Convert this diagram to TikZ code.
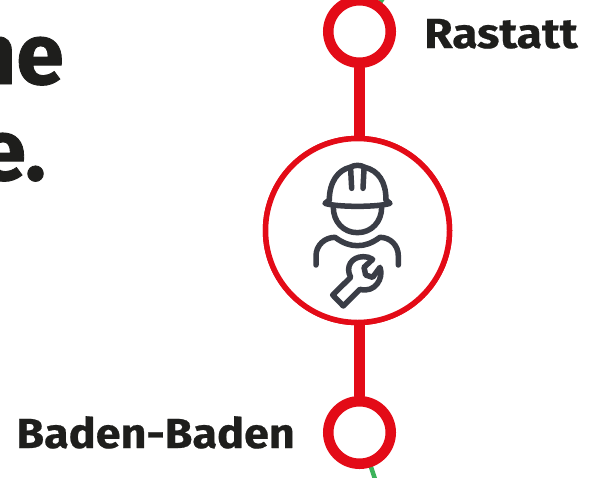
\documentclass[tikz,border=0pt]{standalone}
\usepackage{fontspec}
\setmainfont{Fira Sans}
\newfontfamily\labelfont[FakeStretch=1.07,FakeBold=0.5]{Fira Sans Bold}
\newfontfamily\labelwidefont[FakeStretch=1.1,FakeBold=0.5]{Fira Sans Bold}
\newfontfamily\headfont[FakeBold=1]{Fira Sans Bold}
\definecolor{dbred}{HTML}{E30B17}
\definecolor{ink}{HTML}{1E1E1C}
\definecolor{iconink}{HTML}{3A3D46}
\definecolor{linegreen}{HTML}{3CB35A}
\tikzset{
  station/.style={circle,draw=dbred,line width=10.5pt,fill=white,minimum size=62.5pt,inner sep=0pt},
  hub/.style={circle,draw=dbred,line width=5.5pt,fill=white,minimum size=184pt,inner sep=0pt},
  rail/.style={draw=dbred,line width=11pt,line cap=round},
  branch/.style={draw=linegreen,line width=4.5pt},
  stationlabel/.style={font=\fontsize{42}{42}\selectfont\labelfont,text=ink,inner sep=0pt},
  headline/.style={font=\fontsize{86}{86}\selectfont\headfont,text=ink,inner sep=0pt},
  icon/.style={draw=iconink,line width=5.5pt,line cap=round,line join=round}
}
\begin{document}
\begin{tikzpicture}[x=1pt,y=-1pt]
\useasboundingbox (0,0) rectangle (596,477);
\clip (0,0) rectangle (596,477);
\coordinate (greentop) at (386,-6);
\coordinate (greenbottom) at (376,482);
\coordinate (rastattc) at (359.5,31.5);
\coordinate (badenc) at (359.5,432.5);
\draw[branch] (rastattc) -- (greentop);
\draw[branch] (badenc) -- (greenbottom);
\node[station] (rastatt) at (rastattc) {};
\node[station] (baden) at (badenc) {};
\node[hub] (works) at (357.5,230.5) {};
\draw[rail] (rastatt.south) -- (rastatt.south |- works.north);
\draw[rail] (baden.north) -- (baden.north |- works.south);
\node[hub] at (works) {};
\node[stationlabel,anchor=base west,font=\fontsize{42}{42}\selectfont\labelwidefont] (lr) at (424,48) {Rastatt};
\node[stationlabel,anchor=base east] (lb) at (295,448) {Baden-Baden};
\node[headline,anchor=base east] (l1) at (64,84) {ne};
\node[headline,anchor=base east] (l2) at (46,180) {e.};
\begin{scope}[shift={(300,150)},x=0.3333pt,y=-0.3333pt]
  % helmet
  \draw[icon] (88,150) .. controls (88,95) and (115,60) .. (150,52) .. controls (165,44) and (180,44) .. (195,52) .. controls (235,62) and (258,95) .. (258,150);
  \draw[icon] (88,150) -- (75,160) .. controls (110,172) and (235,172) .. (270,160) -- (258,150);
  \draw[icon] (152,58) -- (155,115);
  \draw[icon] (192,58) -- (189,115);
  % face
  \draw[icon] (100,172) .. controls (100,215) and (130,248) .. (172,248) .. controls (215,248) and (245,215) .. (245,172);
  % shoulders
  \draw[icon] (48,345) -- (48,318) .. controls (48,285) and (75,262) .. (105,262) .. controls (130,280) and (150,287) .. (172,287) .. controls (195,287) and (215,280) .. (240,262) .. controls (270,262) and (295,285) .. (295,318) -- (295,345);
  % wrench
  \draw[icon] (98,435) -- (152,382) .. controls (135,350) and (155,320) .. (190,320) .. controls (200,320) and (210,322) .. (218,328) -- (192,352) -- (197,375) -- (218,382) -- (240,352) .. controls (252,385) and (225,430) .. (180,418) -- (130,468) -- cycle;
\end{scope}
\end{tikzpicture}
\end{document}
